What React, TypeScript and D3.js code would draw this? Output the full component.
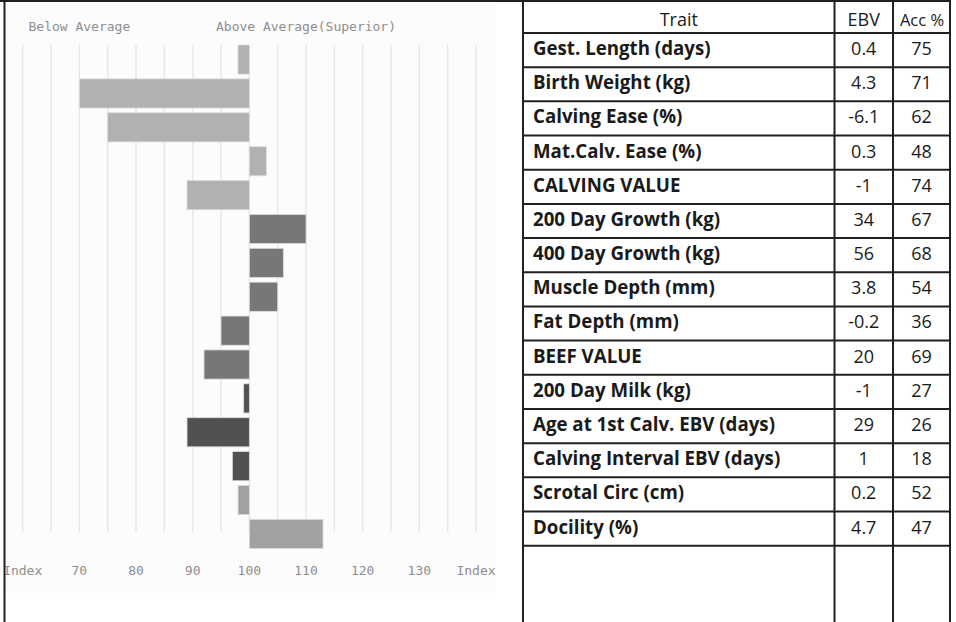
import React from 'react'
import * as d3 from 'd3'

const traits = [
  'Gest. Length (days)',
  'Birth Weight (kg)',
  'Calving Ease (%)',
  'Mat.Calv. Ease (%)',
  'CALVING VALUE',
  '200 Day Growth (kg)',
  '400 Day Growth (kg)',
  'Muscle Depth (mm)',
  'Fat Depth (mm)',
  'BEEF VALUE',
  '200 Day Milk (kg)',
  'Age at 1st Calv. EBV (days)',
  'Calving Interval EBV (days)',
  'Scrotal Circ (cm)',
  'Docility (%)',
]
const ebv = ['0.4', '4.3', '-6.1', '0.3', '-1', '34', '56', '3.8', '-0.2', '20', '-1', '29', '1', '0.2', '4.7']
const acc = ['75', '71', '62', '48', '74', '67', '68', '54', '36', '69', '27', '26', '18', '52', '47']
// index value of each bar (100 = average)
const indexValues = [98, 70, 75, 103, 89, 110, 106, 105, 95, 92, 99, 89, 97, 98, 113]
const groups = [0, 0, 0, 0, 0, 1, 1, 1, 1, 1, 2, 2, 2, 3, 3]
const groupColors = ['#b0b1b3', '#767779', '#505153', '#a1a1a4']
const tickValues = [60, 70, 80, 90, 100, 110, 120, 130, 140]
const tickLabels = ['Index', '70', '80', '90', '100', '110', '120', '130', 'Index']

const W = 956
const H = 622
const ink = '#231f20'

export default function App() {
  const x = d3.scaleLinear().domain([60, 140]).range([22.7, 476])
  const y = d3
    .scaleBand<number>()
    .domain(d3.range(traits.length))
    .range([45, 548.5])
    .paddingInner(0.14)
    .paddingOuter(0)
  const gridVals = d3.range(60, 141, 5)

  // table geometry
  const colX = [523, 834.5, 893, 950]
  const headerTop = 1.5
  const headerBottom = 33
  const rowH = (545.7 - headerBottom) / traits.length
  const rowY = (i: number) => headerBottom + i * rowH

  const mono = '"DejaVu Sans Mono", monospace'
  const tableFont = '"Open Sans", Lato, sans-serif'

  return (
    <svg
      width={W}
      height={H}
      style={{ position: 'absolute', left: 0, top: 0, background: '#fff' }}
    >
      {/* chart panel */}
      <rect x={5} y={2} width={491} height={591} fill="#fcfcfc" />
      <text x={x(70)} y={31} textAnchor="middle" fontFamily={mono} fontSize={13} fill="#8e8e8e">
        Below Average
      </text>
      <text x={x(110)} y={31} textAnchor="middle" fontFamily={mono} fontSize={13} fill="#8e8e8e">
        Above Average(Superior)
      </text>
      {gridVals.map(v => (
        <line
          key={v}
          x1={x(v)}
          x2={x(v)}
          y1={45}
          y2={532}
          stroke="#e8e8e8"
          strokeWidth={1.5}
        />
      ))}
      {indexValues.map((v, i) => (
        <rect
          key={i}
          x={Math.min(x(v), x(100))}
          y={y(i)!}
          width={Math.abs(x(v) - x(100))}
          height={y.bandwidth()}
          fill={groupColors[groups[i]]}
          stroke="#dcdcdc"
          strokeWidth={0.8}
        />
      ))}
      {tickValues.map((v, i) => (
        <text
          key={v}
          x={x(v)}
          y={574.5}
          textAnchor="middle"
          fontFamily={mono}
          fontSize={13}
          fill="#8e8e8e"
        >
          {tickLabels[i]}
        </text>
      ))}
      {/* outer lines */}
      <line x1={0} x2={951} y1={1} y2={1} stroke={ink} strokeWidth={2} />
      <line x1={4.5} x2={4.5} y1={0} y2={H} stroke={ink} strokeWidth={2} />

      {/* table */}
      {colX.map((cx, i) => (
        <line key={i} x1={cx} x2={cx} y1={headerTop} y2={H} stroke={ink} strokeWidth={2} />
      ))}
      {[headerBottom, ...traits.map((_, i) => rowY(i + 1))].map((ly, i) => (
        <line key={i} x1={colX[0]} x2={colX[3]} y1={ly} y2={ly} stroke={ink} strokeWidth={2} />
      ))}
      <g fontFamily={tableFont} fontSize={18} fill="#1a1a1a">
        <text x={(colX[0] + colX[1]) / 2} y={26} textAnchor="middle">Trait</text>
        <text x={(colX[1] + colX[2]) / 2} y={26} textAnchor="middle">EBV</text>
        <text x={(colX[2] + colX[3]) / 2 + 0.5} y={26} textAnchor="middle" fontSize={16.5}>
          Acc %
        </text>
        {traits.map((t, i) => (
          <g key={t}>
            <text x={533} y={rowY(i) + 22} fontWeight="bold" fontSize={18.7}>{t}</text>
            <text x={(colX[1] + colX[2]) / 2} y={rowY(i) + 22} textAnchor="middle">{ebv[i]}</text>
            <text x={(colX[2] + colX[3]) / 2} y={rowY(i) + 22} textAnchor="middle">{acc[i]}</text>
          </g>
        ))}
      </g>
    </svg>
  )
}
